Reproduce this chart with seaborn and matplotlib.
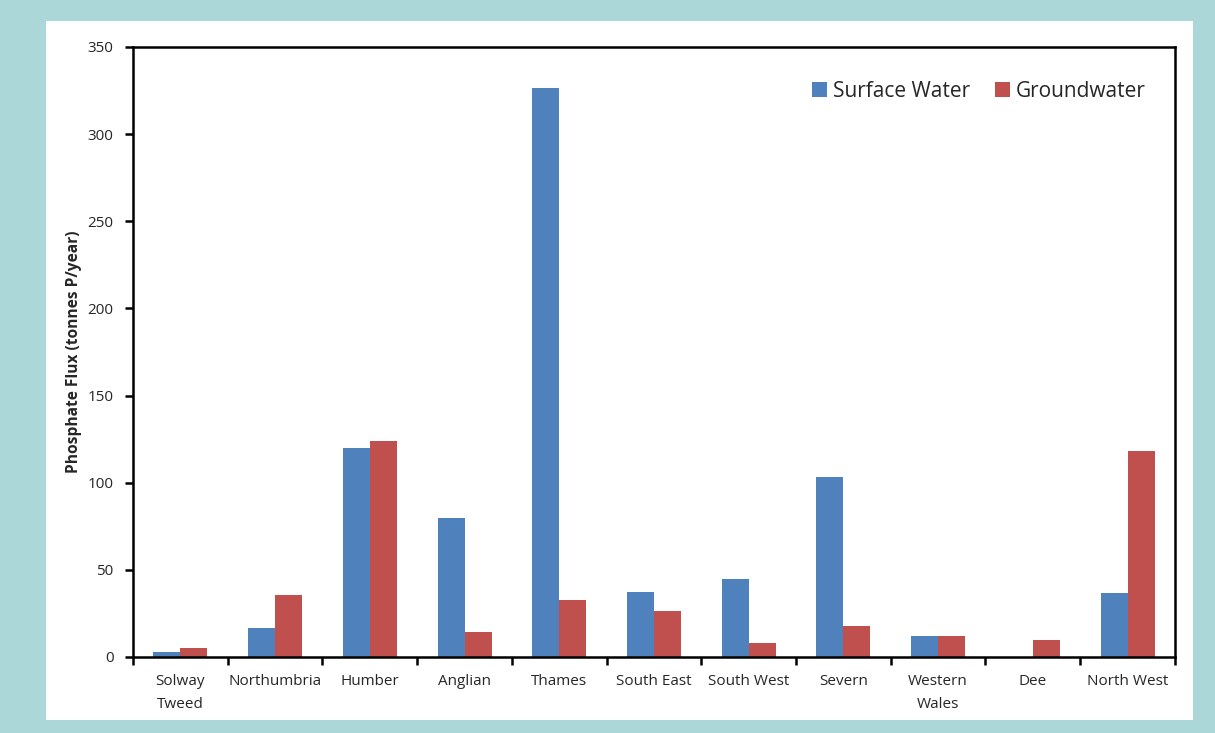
import pandas as pd
import numpy as np
import matplotlib.pyplot as plt
import seaborn as sns

# --- data
regions = ['Solway\nTweed', 'Northumbria', 'Humber', 'Anglian', 'Thames',
           'South East', 'South West', 'Severn', 'Western\nWales', 'Dee',
           'North West']
surface_water = [2.6, 16.4, 120, 80, 326.5, 37.3, 45, 103.3, 11.8, 0, 36.7]
groundwater = [5, 35.6, 124, 14.6, 32.7, 26.1, 8, 17.8, 11.8, 9.8, 118.2]
series = ['Surface Water', 'Groundwater']
colors = ['#4F81BD', '#C0504D']
yticks = [0, 50, 100, 150, 200, 250, 300, 350]

df = pd.DataFrame({
    'region': regions * 2,
    'flux': surface_water + groundwater,
    'source': [series[0]] * len(regions) + [series[1]] * len(regions),
})

sns.set_style('white')
plt.rcParams['font.family'] = ['Open Sans', 'DejaVu Sans']

fig = plt.figure(figsize=(12.15, 7.33), dpi=100)
fig.patch.set_facecolor('#ACD7D8')
# white panel behind the chart
panel = plt.Rectangle((0.038, 0.0177), 0.944, 0.9537, transform=fig.transFigure,
                      facecolor='white', edgecolor='none', zorder=-5)
fig.patches.append(panel)

ax = fig.add_axes([0.1095, 0.1037, 0.8575, 0.8322])
ax.set_zorder(2)
sns.barplot(data=df, x='region', y='flux', hue='source', hue_order=series,
            palette=colors, saturation=1, width=0.57, linewidth=0, ax=ax,
            legend=True)

ax.set_ylim(0, 350)
ax.set_yticks(yticks)
ax.set_xlim(-0.5, len(regions) - 0.5)
ax.set_xlabel('')
ax.set_ylabel('Phosphate Flux (tonnes P/year)', fontsize=11.2, fontweight='bold',
              labelpad=4)
ax.set_facecolor('white')

for s in ax.spines.values():
    s.set_color('black')
    s.set_linewidth(1.8)
    s.set_visible(True)

# category boundaries as minor ticks, no ticks at the labels
ax.set_xticks(np.arange(len(regions) + 1) - 0.5, minor=True)
ax.tick_params(axis='x', which='major', length=0, labelsize=11, pad=12)
ax.tick_params(axis='x', which='minor', length=6, width=1.8, direction='out',
               color='black', bottom=True)
ax.tick_params(axis='y', which='major', length=6, width=1.8, direction='out',
               color='black', left=True, labelsize=11, pad=8)
ax.tick_params(axis='y', which='minor', left=False)
for lbl in ax.get_xticklabels():
    lbl.set_linespacing(1.75)

ax.legend(frameon=False, loc='upper right', ncol=2, fontsize=15,
          handlelength=0.7, handleheight=0.7, handletextpad=0.3,
          columnspacing=1.2, bbox_to_anchor=(0.99, 0.975))

plt.savefig('out.png', dpi=100, facecolor=fig.get_facecolor())
